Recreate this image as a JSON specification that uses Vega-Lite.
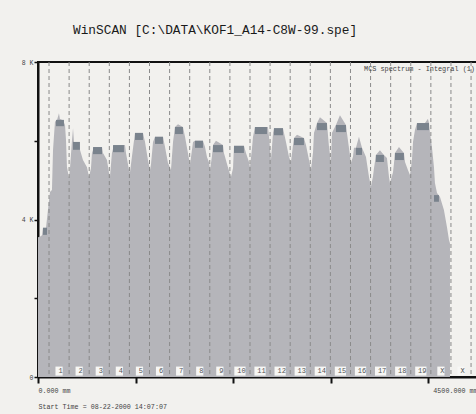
{
  "$schema": "https://vega.github.io/schema/vega-lite/v6.json",
  "width": 439,
  "height": 315,
  "autosize": {"type": "none"},
  "padding": {"left": 38, "top": 62, "right": 0, "bottom": 37},
  "background": "#f2f1ee",
  "config": {
    "view": {"stroke": "#111111", "strokeWidth": 2, "fill": "#f2f1ee"},
    "font": "Liberation Mono"
  },
  "title": {
    "text": "WinSCAN [C:\\DATA\\KOF1_A14-C8W-99.spe]",
    "font": "Liberation Mono",
    "fontSize": 12.8,
    "fontWeight": "normal",
    "color": "#1a1a1a",
    "anchor": "start",
    "frame": "group",
    "dx": 35,
    "offset": 22
  },
  "datasets": {
    "profile": [
      {"mm": 0, "count": 3550}, {"mm": 20, "count": 3560}, {"mm": 41, "count": 3600}, {"mm": 51, "count": 3790},
      {"mm": 82, "count": 3790}, {"mm": 102, "count": 4240}, {"mm": 123, "count": 4700}, {"mm": 143, "count": 4750},
      {"mm": 154, "count": 5770}, {"mm": 174, "count": 6480}, {"mm": 195, "count": 6530}, {"mm": 215, "count": 6700},
      {"mm": 225, "count": 6550}, {"mm": 256, "count": 6520}, {"mm": 277, "count": 6400}, {"mm": 287, "count": 6020},
      {"mm": 297, "count": 5330}, {"mm": 318, "count": 5050}, {"mm": 328, "count": 5300}, {"mm": 348, "count": 6000},
      {"mm": 359, "count": 6320}, {"mm": 369, "count": 5970}, {"mm": 410, "count": 5970}, {"mm": 430, "count": 5770},
      {"mm": 461, "count": 5510}, {"mm": 502, "count": 5330}, {"mm": 523, "count": 5080}, {"mm": 543, "count": 5300},
      {"mm": 553, "count": 5690}, {"mm": 574, "count": 5840}, {"mm": 656, "count": 5840}, {"mm": 666, "count": 5690},
      {"mm": 707, "count": 5510}, {"mm": 728, "count": 5180}, {"mm": 738, "count": 5100}, {"mm": 758, "count": 5690},
      {"mm": 779, "count": 5890}, {"mm": 892, "count": 5890}, {"mm": 902, "count": 5690}, {"mm": 933, "count": 5260},
      {"mm": 943, "count": 5200}, {"mm": 963, "count": 5600}, {"mm": 994, "count": 6200}, {"mm": 1076, "count": 6200},
      {"mm": 1097, "count": 5970}, {"mm": 1127, "count": 5510}, {"mm": 1148, "count": 5260}, {"mm": 1158, "count": 5400},
      {"mm": 1179, "count": 5970}, {"mm": 1199, "count": 6100}, {"mm": 1281, "count": 6100}, {"mm": 1302, "count": 5840},
      {"mm": 1332, "count": 5440}, {"mm": 1363, "count": 5260}, {"mm": 1384, "count": 5970}, {"mm": 1404, "count": 6350},
      {"mm": 1435, "count": 6420}, {"mm": 1486, "count": 6350}, {"mm": 1507, "count": 6100}, {"mm": 1537, "count": 5690},
      {"mm": 1558, "count": 5390}, {"mm": 1589, "count": 5970}, {"mm": 1609, "count": 6000}, {"mm": 1691, "count": 6000},
      {"mm": 1712, "count": 5840}, {"mm": 1732, "count": 5590}, {"mm": 1753, "count": 5450}, {"mm": 1763, "count": 5260},
      {"mm": 1783, "count": 5600}, {"mm": 1794, "count": 5890}, {"mm": 1824, "count": 6000}, {"mm": 1896, "count": 5890},
      {"mm": 1906, "count": 5690}, {"mm": 1947, "count": 5330}, {"mm": 1978, "count": 5080}, {"mm": 1999, "count": 5300},
      {"mm": 2009, "count": 5870}, {"mm": 2111, "count": 5870}, {"mm": 2132, "count": 5690}, {"mm": 2163, "count": 5460},
      {"mm": 2173, "count": 5330}, {"mm": 2193, "count": 5800}, {"mm": 2204, "count": 6100}, {"mm": 2224, "count": 6350},
      {"mm": 2357, "count": 6350}, {"mm": 2368, "count": 6100}, {"mm": 2388, "count": 5510}, {"mm": 2409, "count": 6200},
      {"mm": 2419, "count": 6320}, {"mm": 2511, "count": 6320}, {"mm": 2542, "count": 5970}, {"mm": 2573, "count": 5590},
      {"mm": 2593, "count": 5460}, {"mm": 2614, "count": 5900}, {"mm": 2624, "count": 6070}, {"mm": 2655, "count": 6150},
      {"mm": 2726, "count": 6070}, {"mm": 2747, "count": 5890}, {"mm": 2778, "count": 5510}, {"mm": 2798, "count": 5260},
      {"mm": 2819, "count": 5700}, {"mm": 2829, "count": 6200}, {"mm": 2860, "count": 6450}, {"mm": 2890, "count": 6600},
      {"mm": 2962, "count": 6450}, {"mm": 2983, "count": 5840}, {"mm": 3003, "count": 5460}, {"mm": 3013, "count": 6200},
      {"mm": 3054, "count": 6400}, {"mm": 3095, "count": 6650}, {"mm": 3157, "count": 6400}, {"mm": 3167, "count": 6200},
      {"mm": 3208, "count": 5440}, {"mm": 3229, "count": 5600}, {"mm": 3239, "count": 5820}, {"mm": 3259, "count": 5820},
      {"mm": 3290, "count": 6100}, {"mm": 3321, "count": 5820}, {"mm": 3362, "count": 5590}, {"mm": 3393, "count": 5080},
      {"mm": 3413, "count": 4830}, {"mm": 3434, "count": 5100}, {"mm": 3444, "count": 5300}, {"mm": 3464, "count": 5640},
      {"mm": 3505, "count": 5760}, {"mm": 3546, "count": 5640}, {"mm": 3577, "count": 5560}, {"mm": 3598, "count": 5080},
      {"mm": 3608, "count": 4930}, {"mm": 3639, "count": 5200}, {"mm": 3649, "count": 5430}, {"mm": 3659, "count": 5690},
      {"mm": 3700, "count": 5840}, {"mm": 3751, "count": 5690}, {"mm": 3762, "count": 5460}, {"mm": 3792, "count": 5260},
      {"mm": 3813, "count": 5130}, {"mm": 3833, "count": 5500}, {"mm": 3844, "count": 5970}, {"mm": 3864, "count": 6270},
      {"mm": 3885, "count": 6450}, {"mm": 3967, "count": 6450}, {"mm": 3997, "count": 6560}, {"mm": 4008, "count": 6450},
      {"mm": 4018, "count": 6200}, {"mm": 4038, "count": 5840}, {"mm": 4059, "count": 5330}, {"mm": 4069, "count": 4930},
      {"mm": 4090, "count": 4670}, {"mm": 4120, "count": 4580}, {"mm": 4161, "count": 4240}, {"mm": 4192, "count": 3810},
      {"mm": 4213, "count": 3480}, {"mm": 4223, "count": 3400}
    ],
    "caps": [
      {"x0": 51, "x1": 92, "top": 3790, "base": 3610},
      {"x0": 184, "x1": 266, "top": 6530, "base": 6370},
      {"x0": 359, "x1": 430, "top": 5970, "base": 5770},
      {"x0": 564, "x1": 656, "top": 5840, "base": 5660},
      {"x0": 769, "x1": 881, "top": 5890, "base": 5710},
      {"x0": 994, "x1": 1076, "top": 6200, "base": 6020},
      {"x0": 1199, "x1": 1281, "top": 6100, "base": 5920},
      {"x0": 1404, "x1": 1486, "top": 6350, "base": 6170},
      {"x0": 1609, "x1": 1691, "top": 6000, "base": 5820},
      {"x0": 1794, "x1": 1896, "top": 5890, "base": 5710},
      {"x0": 2009, "x1": 2111, "top": 5870, "base": 5690},
      {"x0": 2224, "x1": 2347, "top": 6350, "base": 6170},
      {"x0": 2419, "x1": 2511, "top": 6320, "base": 6140},
      {"x0": 2624, "x1": 2726, "top": 6070, "base": 5890},
      {"x0": 2860, "x1": 2962, "top": 6450, "base": 6270},
      {"x0": 3054, "x1": 3157, "top": 6400, "base": 6220},
      {"x0": 3259, "x1": 3321, "top": 5820, "base": 5640},
      {"x0": 3464, "x1": 3546, "top": 5640, "base": 5460},
      {"x0": 3659, "x1": 3751, "top": 5690, "base": 5510},
      {"x0": 3885, "x1": 4008, "top": 6450, "base": 6270},
      {"x0": 4059, "x1": 4110, "top": 4620, "base": 4450}
    ],
    "dividers": [
      {"mm": 113}, {"mm": 319}, {"mm": 525}, {"mm": 731}, {"mm": 937}, {"mm": 1143}, {"mm": 1349}, {"mm": 1555},
      {"mm": 1761}, {"mm": 1967}, {"mm": 2173}, {"mm": 2379}, {"mm": 2585}, {"mm": 2791}, {"mm": 2997}, {"mm": 3203},
      {"mm": 3409}, {"mm": 3615}, {"mm": 3821}, {"mm": 4027}, {"mm": 4233}, {"mm": 4439}
    ],
    "lanes": [
      {"mm": 216, "label": "1"}, {"mm": 422, "label": "2"}, {"mm": 628, "label": "3"}, {"mm": 834, "label": "4"},
      {"mm": 1040, "label": "5"}, {"mm": 1246, "label": "6"}, {"mm": 1452, "label": "7"}, {"mm": 1658, "label": "8"},
      {"mm": 1864, "label": "9"}, {"mm": 2070, "label": "10"}, {"mm": 2276, "label": "11"}, {"mm": 2482, "label": "12"},
      {"mm": 2688, "label": "13"}, {"mm": 2894, "label": "14"}, {"mm": 3100, "label": "15"}, {"mm": 3306, "label": "16"},
      {"mm": 3512, "label": "17"}, {"mm": 3718, "label": "18"}, {"mm": 3924, "label": "19"}, {"mm": 4130, "label": "X"},
      {"mm": 4336, "label": "X"}
    ],
    "note": [{"label": "MCS spectrum - Integral (1)"}]
  },
  "layer": [
    {
      "data": {"name": "profile"},
      "mark": {"type": "area", "color": "#b5b5ba", "interpolate": "linear", "clip": true},
      "encoding": {
        "x": {
          "field": "mm", "type": "quantitative",
          "scale": {"domain": [0, 4500], "nice": false, "zero": false},
          "axis": {
            "values": [0, 1000, 2000, 3000, 4000, 4500],
            "labelExpr": "datum.value == 0 ? '0.000 mm' : (datum.value == 4500 ? '4500.000 mm' : '')",
            "labelFlush": true,
            "labelFont": "Liberation Mono",
            "labelFontSize": 6.7,
            "labelColor": "#444444",
            "labelPadding": 4,
            "tickSize": 6,
            "tickWidth": 2,
            "tickColor": "#111111",
            "domainColor": "#111111",
            "domainWidth": 2,
            "grid": false,
            "title": "Start Time = 08-22-2000 14:07:07",
            "titleAnchor": "start",
            "titleFont": "Liberation Mono",
            "titleFontSize": 6.7,
            "titleFontWeight": "normal",
            "titleColor": "#444444",
            "titlePadding": 10
          }
        },
        "y": {
          "field": "count", "type": "quantitative",
          "scale": {"domain": [0, 8000], "nice": false},
          "axis": {
            "values": [0, 1000, 2000, 3000, 4000, 5000, 6000, 7000, 8000],
            "labelExpr": "datum.value == 0 ? '0' : (datum.value % 4000 == 0 ? (datum.value / 1000) + ' K' : '')",
            "labelFont": "Liberation Mono",
            "labelFontSize": 6.5,
            "labelColor": "#444444",
            "labelPadding": 1,
            "tickSize": 4,
            "tickWidth": 1.5,
            "tickColor": "#111111",
            "domainColor": "#111111",
            "domainWidth": 2,
            "grid": false,
            "title": null
          }
        }
      }
    },
    {
      "data": {"name": "caps"},
      "mark": {"type": "rect", "color": "#7a838d"},
      "encoding": {
        "x": {"field": "x0", "type": "quantitative", "scale": {"domain": [0, 4500], "nice": false, "zero": false}},
        "x2": {"field": "x1"},
        "y": {"field": "top", "type": "quantitative", "scale": {"domain": [0, 8000], "nice": false}},
        "y2": {"field": "base"}
      }
    },
    {
      "data": {"name": "dividers"},
      "mark": {"type": "rule", "color": "#8a8a8a", "strokeWidth": 1, "strokeDash": [4, 3]},
      "encoding": {
        "x": {"field": "mm", "type": "quantitative", "scale": {"domain": [0, 4500], "nice": false, "zero": false}}
      }
    },
    {
      "data": {"name": "lanes"},
      "mark": {"type": "point", "filled": true, "color": "#f7f7f5", "opacity": 1, "size": 81, "strokeWidth": 0, "dx": 1.5},
      "encoding": {
        "x": {"field": "mm", "type": "quantitative", "scale": {"domain": [0, 4500], "nice": false, "zero": false}},
        "y": {"datum": 150, "type": "quantitative", "scale": {"domain": [0, 8000], "nice": false}},
        "shape": {
          "condition": {"test": "length(datum.label) > 1", "value": "M-1.25,-1L1.25,-1L1.25,1L-1.25,1Z"},
          "value": "M-0.8,-1L0.8,-1L0.8,1L-0.8,1Z"
        }
      }
    },
    {
      "data": {"name": "lanes"},
      "mark": {"type": "text", "font": "Liberation Mono", "fontSize": 7, "color": "#555555", "align": "center", "baseline": "middle", "dx": 1.5},
      "encoding": {
        "x": {"field": "mm", "type": "quantitative", "scale": {"domain": [0, 4500], "nice": false, "zero": false}},
        "y": {"datum": 150, "type": "quantitative", "scale": {"domain": [0, 8000], "nice": false}},
        "text": {"field": "label"}
      }
    },
    {
      "data": {"name": "note"},
      "mark": {"type": "text", "font": "Liberation Mono", "fontSize": 6.85, "color": "#444444", "align": "right", "baseline": "middle"},
      "encoding": {
        "x": {"datum": 4479, "type": "quantitative", "scale": {"domain": [0, 4500], "nice": false, "zero": false}},
        "y": {"datum": 7820, "type": "quantitative", "scale": {"domain": [0, 8000], "nice": false}},
        "text": {"field": "label"}
      }
    }
  ]
}
